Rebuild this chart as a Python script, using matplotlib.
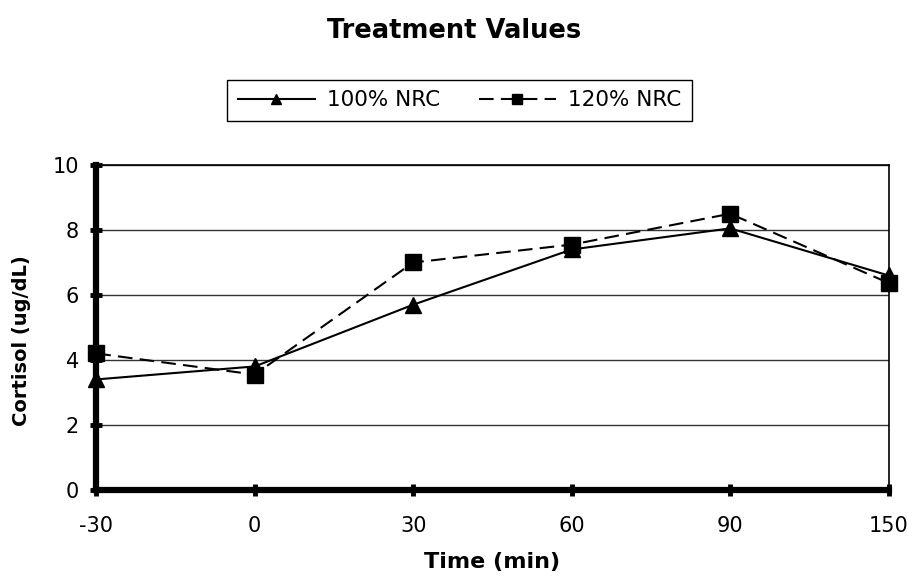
import numpy as np
import matplotlib
matplotlib.use("Agg")
import matplotlib.pyplot as plt

plt.rcParams["font.family"] = ["DejaVu Sans"]

times = ["-30", "0", "30", "60", "90", "150"]
nrc100 = [3.4, 3.8, 5.7, 7.4, 8.05, 6.6]
nrc120 = [4.2, 3.55, 7.0, 7.55, 8.5, 6.37]
yticks = [0, 2, 4, 6, 8, 10]

fig = plt.figure(figsize=(9.17, 5.77), dpi=100)
ax = fig.add_axes([0.105, 0.151, 0.864, 0.563])
x = np.arange(len(times))

ax.plot(x, nrc100, color="black", lw=1.5, marker="^", ms=11, label="100% NRC", clip_on=False, zorder=4)
ax.plot(x, nrc120, color="black", lw=1.5, ls=(0, (7, 3.5)), marker="s", ms=11, label="120% NRC",
        clip_on=False, zorder=4)

ax.set_xlim(0, len(times) - 1)
ax.set_ylim(0, 10)
ax.set_xticks(x)
ax.set_xticklabels(times)
ax.set_yticks(yticks)
ax.yaxis.grid(True, color="#333333", lw=1.0)
ax.set_axisbelow(True)

for s in ("left", "bottom"):
    ax.spines[s].set_linewidth(4.5)
    ax.spines[s].set_zorder(5)
for s in ("right", "top"):
    ax.spines[s].set_linewidth(1.2)
ax.tick_params(axis="both", direction="inout", length=9, width=3.5, labelsize=15)
ax.tick_params(axis="x", pad=14)
ax.tick_params(axis="y", pad=8)

ax.set_xlabel("Time (min)", fontsize=16, fontweight="bold", labelpad=12)
ax.set_ylabel("Cortisol (ug/dL)", fontsize=14, fontweight="bold")
ax.yaxis.set_label_coords(-0.082, 0.458)
fig.suptitle("Treatment Values", fontsize=18.5, fontweight="bold", x=0.495, y=0.968)

leg = fig.legend(loc="center", bbox_to_anchor=(0.501, 0.174 + 0.652), ncol=2, fontsize=15.5,
                 handlelength=3.6, handletextpad=0.55, columnspacing=1.8, fancybox=False,
                 edgecolor="black", borderpad=0.5, borderaxespad=0, framealpha=1)
leg.get_frame().set_linewidth(1.0)
for h in leg.legend_handles:
    h.set_markersize(7)

fig.savefig("out.png", dpi=100)
